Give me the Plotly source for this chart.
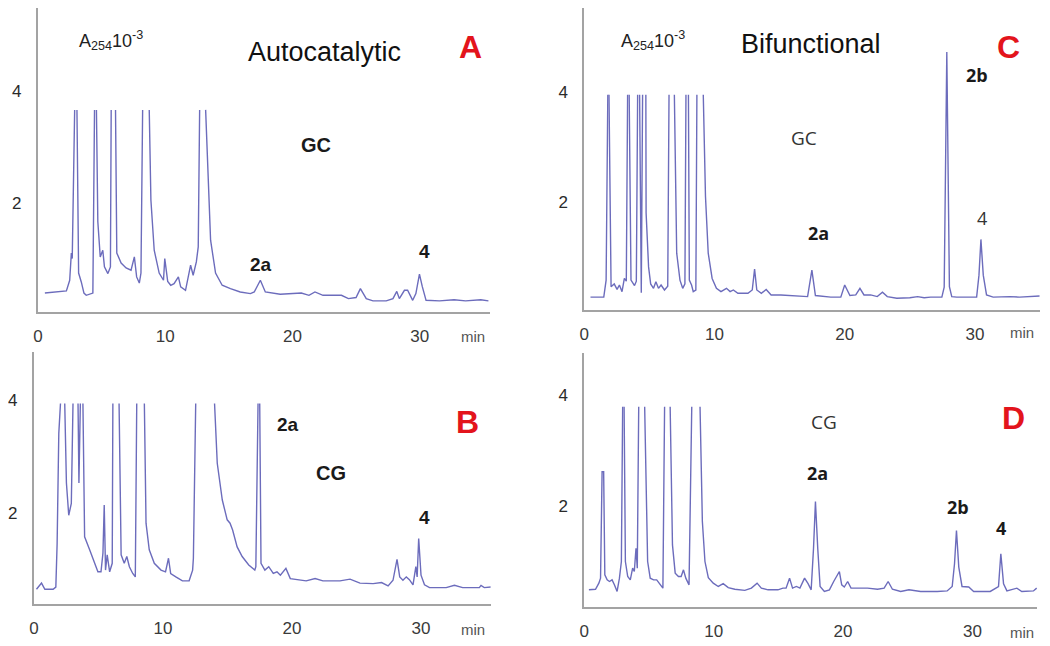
import plotly.graph_objects as go

# ---------------- data (time in min, absorbance A254 x 10^-3) ----------------
# None marks a break where an off-scale peak leaves the recorded window
A_points = [(0.55,0.38),(2.24,0.42),(2.5,0.61),(2.63,1.1),(2.7,1.0),(2.89,3.67),None,(3.07,3.67),(3.2,0.74),(3.41,0.58),(3.62,0.38),(3.8,0.34),(4.32,0.38),(4.45,3.67),None,(4.6,3.67),(4.71,1.66),(4.9,1.03),(5.1,1.15),(5.23,0.85),(5.5,0.73),(5.7,0.85),(5.76,3.67),None,(6.1,3.67),(6.2,1.1),(6.54,0.92),(6.93,0.83),(7.32,0.79),(7.58,1.03),(7.76,0.67),(7.97,0.56),(8.1,0.74),(8.23,3.67),None,(8.75,3.67),(8.88,2.05),(9.14,1.15),(9.53,0.74),(9.87,0.61),(9.97,1.0),(10.2,0.59),(10.44,0.52),(10.7,0.55),(11.04,0.67),(11.22,0.49),(11.6,0.43),(12.0,0.88),(12.2,0.7),(12.45,0.94),(12.6,1.21),(12.71,3.67),None,(13.18,3.67),(13.36,2.65),(13.57,1.33),(13.96,0.74),(14.48,0.52),(15.13,0.46),(15.9,0.40),(16.7,0.37),(17.0,0.40),(17.48,0.61),(17.87,0.40),(19.04,0.36),(20.7,0.38),(21.3,0.34),(21.77,0.40),(22.4,0.34),(23.85,0.34),(24.4,0.28),(25.0,0.30),(25.34,0.46),(25.8,0.28),(26.33,0.24),(27.37,0.24),(27.9,0.28),(28.2,0.41),(28.4,0.28),(28.8,0.43),(29.05,0.43),(29.45,0.25),(29.7,0.37),(29.98,0.72),(30.2,0.50),(30.5,0.25),(31.55,0.24),(32.7,0.26),(33.6,0.24),(34.8,0.26),(35.4,0.24)]

B_points = [(0.2,0.65),(0.59,0.76),(0.85,0.65),(1.49,0.65),(1.7,0.69),(1.8,1.46),(1.93,3.41),(2.06,3.94),None,(2.39,3.94),(2.52,2.53),(2.7,1.96),(2.9,2.17),(3.03,3.94),None,(3.42,3.94),(3.49,2.53),(3.6,3.94),None,(3.8,3.94),(3.93,1.58),(4.32,1.35),(4.7,1.11),(4.96,0.96),(5.2,0.96),(5.35,1.29),(5.45,2.14),(5.55,0.99),(5.68,1.26),(5.87,0.96),(6.07,1.11),(6.12,3.94),None,(6.6,3.94),(6.76,1.26),(7.0,1.11),(7.2,1.23),(7.4,1.05),(7.66,0.93),(7.86,0.87),(7.97,3.94),None,(8.56,3.94),(8.69,1.82),(8.94,1.35),(9.33,1.11),(9.85,0.99),(10.2,0.96),(10.43,1.2),(10.6,0.93),(11.0,0.87),(11.51,0.80),(12.03,0.80),(12.3,0.99),(12.36,1.2),(12.45,2.4),(12.54,3.94),None,(14.0,3.94),(14.21,2.88),(14.6,2.23),(14.98,1.88),(15.2,1.82),(15.4,1.70),(15.75,1.40),(16.14,1.23),(16.65,1.08),(17.12,0.99),(17.2,1.05),(17.37,3.94),None,(17.5,3.94),(17.6,1.11),(17.9,0.99),(18.2,1.05),(18.55,0.93),(18.84,0.96),(19.1,0.90),(19.53,1.02),(19.87,0.84),(20.64,0.81),(21.1,0.80),(21.79,0.84),(22.4,0.80),(23.72,0.80),(24.5,0.83),(25.27,0.76),(26.29,0.75),(26.94,0.77),(27.45,0.71),(27.83,0.81),(28.14,1.18),(28.35,0.87),(28.6,0.81),(28.86,0.87),(29.1,0.82),(29.38,0.73),(29.6,1.05),(29.7,0.87),(29.82,1.55),(30.0,0.90),(30.27,0.73),(30.66,0.68),(31.95,0.68),(32.59,0.72),(33.23,0.68),(34.52,0.68),(34.65,0.72),(34.9,0.68),(35.41,0.69)]

C_points = [(0.48,0.27),(1.5,0.27),(1.68,0.58),(1.81,3.95),None,(1.9,3.95),(2.06,0.46),(2.3,0.51),(2.52,0.41),(2.7,0.49),(2.9,0.37),(3.08,0.61),(3.23,0.56),(3.33,3.95),None,(3.45,3.95),(3.59,0.58),(3.86,0.48),(4.0,0.56),(4.1,3.95),None,(4.25,3.95),(4.38,0.35),(4.48,3.95),None,(4.73,3.95),(4.75,1.8),(4.94,0.82),(5.1,0.51),(5.32,0.43),(5.5,0.55),(5.7,0.43),(5.9,0.49),(6.16,0.40),(6.41,0.47),(6.51,3.95),None,(6.92,3.95),(7.1,1.07),(7.35,0.58),(7.56,0.43),(7.73,0.51),(7.81,3.95),None,(8.0,3.95),(8.07,0.58),(8.24,0.49),(8.37,0.37),(8.57,0.40),(8.65,3.95),None,(9.14,3.95),(9.31,2.1),(9.52,1.07),(9.82,0.61),(10.15,0.43),(10.5,0.37),(10.92,0.43),(11.2,0.37),(11.45,0.40),(11.8,0.34),(12.57,0.34),(12.9,0.40),(13.08,0.78),(13.25,0.40),(13.6,0.34),(13.97,0.41),(14.35,0.31),(15.1,0.31),(17.15,0.28),(17.48,0.76),(17.75,0.30),(18.93,0.27),(19.7,0.27),(20.0,0.49),(20.4,0.30),(20.85,0.31),(21.17,0.43),(21.48,0.31),(21.99,0.31),(22.5,0.28),(22.9,0.36),(23.27,0.28),(24.0,0.25),(25.0,0.26),(25.6,0.28),(26.1,0.26),(26.6,0.27),(27.46,0.27),(27.64,0.45),(27.84,4.73),(28.04,0.46),(28.22,0.28),(28.6,0.27),(30.13,0.27),(30.31,0.67),(30.46,1.32),(30.64,0.67),(30.89,0.31),(31.4,0.27),(32.67,0.28),(33.43,0.27),(34.2,0.28),(34.96,0.29)]

D_points = [(0.36,0.49),(0.87,0.50),(1.13,0.61),(1.26,0.70),(1.38,2.62),(1.5,2.62),(1.59,0.76),(1.77,0.67),(1.95,0.64),(2.15,0.67),(2.33,0.58),(2.54,0.46),(2.72,0.70),(2.87,1.0),(2.97,3.79),None,(3.08,3.79),(3.18,1.0),(3.36,0.73),(3.56,0.67),(3.74,0.88),(3.87,0.82),(4.0,1.24),(4.1,0.88),(4.21,3.79),None,(4.67,3.79),(4.77,2.2),(4.9,1.0),(5.1,0.70),(5.36,0.67),(5.6,0.67),(5.87,0.58),(6.08,0.52),(6.21,3.79),None,(6.64,3.79),(6.82,1.30),(7.03,0.79),(7.28,0.73),(7.49,0.73),(7.67,0.85),(7.85,0.70),(8.1,0.58),(8.31,3.79),None,(8.95,3.79),(9.13,1.72),(9.33,1.0),(9.59,0.71),(9.97,0.61),(10.36,0.55),(10.74,0.60),(11.13,0.53),(11.64,0.50),(12.41,0.48),(12.92,0.52),(13.36,0.61),(13.69,0.52),(14.21,0.49),(14.97,0.49),(15.36,0.52),(15.6,0.52),(15.87,0.70),(16.1,0.52),(16.4,0.55),(16.67,0.52),(17.03,0.70),(17.3,0.60),(17.54,0.49),(17.72,1.23),(17.87,2.08),(18.05,1.23),(18.23,0.55),(18.56,0.46),(18.95,0.49),(19.28,0.64),(19.51,0.73),(19.72,0.82),(19.9,0.58),(20.1,0.54),(20.36,0.64),(20.62,0.52),(21.9,0.52),(22.67,0.50),(23.18,0.52),(23.49,0.64),(23.82,0.50),(24.46,0.46),(25.1,0.49),(26.0,0.46),(27.28,0.46),(28.05,0.47),(28.44,0.55),(28.62,0.96),(28.77,1.56),(28.95,0.90),(29.2,0.55),(29.72,0.54),(30.1,0.46),(31.38,0.46),(32.02,0.55),(32.2,1.14),(32.41,0.60),(32.67,0.47),(33.44,0.52),(33.82,0.46),(34.72,0.47),(34.97,0.52)]

x_ticks = [0, 10, 20, 30]
y_ticks = [2, 4]
panel_letters = ["A", "B", "C", "D"]
panel_titles = {"A": "Autocatalytic", "C": "Bifunctional"}
duplex_labels = {"A": "GC", "B": "CG", "C": "GC", "D": "CG"}

# the page body has an 8px margin, so the figure is sized to fill the rest
OFF = 8
W, H = 1050 - OFF, 646 - OFF
TRACE = "#6c6cbc"
AXIS = "#a3a3a3"
FONT = "Liberation Sans, Arial"
FONT2 = "Open Sans, Liberation Sans"


def split(points):
    xs, ys = [], []
    for p in points:
        if p is None:
            xs.append(None); ys.append(None)
        else:
            xs.append(p[0]); ys.append(p[1])
    return xs, ys


def px(x):
    return min(max((x - OFF) / W, 0), 1)


def py(y):
    return min(max(1 - (y - OFF) / H, 0), 1)


fig = go.Figure()

# panel geometry in page pixels: (name, points, x-extent, y-extent(top,bottom), x range, y range)
panels = [
    ("A", A_points, (33, 487), (8, 312), [0, 35.5], [0.04, 5.5]),
    ("B", B_points, (29, 488), (352, 604), [0, 35.4], [0.39, 4.85]),
    ("C", C_points, (582, 1040), (8, 310), [0, 35.0], [0.036, 5.53]),
    ("D", D_points, (582, 1037), (353, 607), [0, 35.0], [0.18, 4.76]),
]

for i, (name, pts, xd, yd, xr, yr) in enumerate(panels, start=1):
    xs, ys = split(pts)
    sfx = "" if i == 1 else str(i)
    fig.add_trace(go.Scatter(x=xs, y=ys, mode="lines", connectgaps=False,
                             line=dict(color=TRACE, width=1.4),
                             xaxis="x" + sfx, yaxis="y" + sfx,
                             showlegend=False, hoverinfo="skip"))
    fig.layout["xaxis" + sfx] = dict(
        domain=[px(xd[0]), px(xd[1])], range=xr, anchor="y" + sfx,
        tickvals=x_ticks, showgrid=False, zeroline=False,
        showline=True, linecolor=AXIS, linewidth=2, ticks="",
        ticklabelstandoff=8,
        tickfont=dict(family=FONT, size=17, color="#3a3a3a"))
    fig.layout["yaxis" + sfx] = dict(
        domain=[py(yd[1]), py(yd[0])], range=yr, anchor="x" + sfx,
        tickvals=y_ticks, showgrid=False, zeroline=False,
        showline=True, linecolor=AXIS, linewidth=2, ticks="",
        ticklabelstandoff=11,
        tickfont=dict(family=FONT, size=17, color="#2a2a2a"))

ann = []


def add(text, x, y, size=19, color="#1a1a1a", bold=False, family=FONT):
    ann.append(dict(text=("<b>%s</b>" % text) if bold else text, x=px(x), y=py(y),
                    xref="paper", yref="paper", showarrow=False,
                    xanchor="center", yanchor="middle",
                    font=dict(family=family, size=size, color=color)))


RED = "#e3141c"
# Panel A
add("A<sub>254</sub>10<sup>-3</sup>", 106, 40, size=18, color="#222")
add(panel_titles["A"], 321, 52, size=27, color="#111")
add(panel_letters[0], 468, 47, size=32, color=RED, bold=True)
add(duplex_labels["A"], 312, 145, size=20, bold=True)
add("2a", 257, 264, size=19, bold=True)
add("4", 421, 251, size=19, bold=True)
add("min", 470, 336, size=15, color="#555")
# Panel B
add("2a", 284, 424, size=19, bold=True)
add(duplex_labels["B"], 328, 473, size=20, bold=True)
add(panel_letters[1], 465, 422, size=32, color=RED, bold=True)
add("4", 421, 517, size=19, bold=True)
add("min", 470, 629, size=15, color="#555")
# Panel C
add("A<sub>254</sub>10<sup>-3</sup>", 651, 40, size=18, color="#222")
add(panel_titles["C"], 810, 44, size=27, color="#111")
add(panel_letters[2], 1008, 47, size=32, color=RED, bold=True)
add("2b", 977, 75, size=18, bold=True, family=FONT2)
add(duplex_labels["C"], 803, 138, size=19, color="#333", family=FONT2)
add("2a", 817, 233, size=18, bold=True, family=FONT2)
add("4", 982, 218, size=18, color="#333", family=FONT2)
add("min", 1022, 332, size=15, color="#555")
# Panel D
add(duplex_labels["D"], 823, 422, size=19, color="#333", family=FONT2)
add(panel_letters[3], 1013, 418, size=32, color=RED, bold=True)
add("2a", 816, 473, size=18, bold=True, family=FONT2)
add("2b", 958, 507, size=18, bold=True, family=FONT2)
add("4", 1001, 528, size=18, bold=True, family=FONT2)
add("min", 1022, 632, size=15, color="#555")

fig.update_layout(width=W, height=H, margin=dict(l=0, r=0, t=0, b=0),
                  paper_bgcolor="white", plot_bgcolor="white",
                  annotations=ann, showlegend=False)

fig.write_html("out.html")
